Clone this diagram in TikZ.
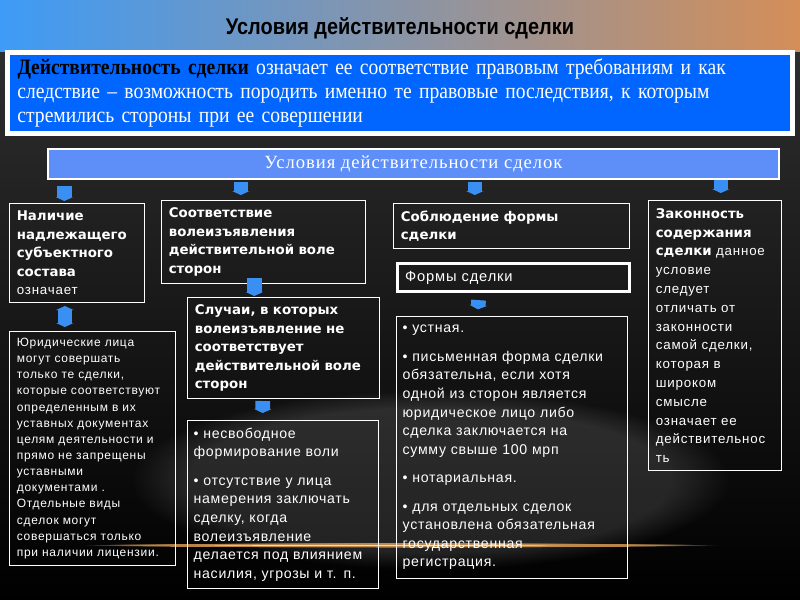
\documentclass[tikz,border=0pt]{standalone}
\usepackage{fontspec}
\setmainfont{Liberation Sans}
\newfontfamily\titlefont[FakeStretch=0.88]{Liberation Sans}
\newfontfamily\deffont[FakeStretch=0.89]{Liberation Serif}
\newfontfamily\barfont[LetterSpace=5]{Liberation Serif}
\newfontfamily\headfont{DejaVu Sans}
\newfontfamily\plainfont[LetterSpace=6]{Liberation Sans}
\newfontfamily\bulletfont[LetterSpace=5]{Liberation Sans}
\usetikzlibrary{
	calc				% Allows ($(a)+(x,y)$) offsets for the arrows
	, arrows.meta		% Allows Triangle arrow tips
	, fadings			% Allows the soft glow and the light streak
}
\definecolor{bandleft}{HTML}{3E9BF6}
\definecolor{bandmid}{HTML}{8E96A6}
\definecolor{bandright}{HTML}{D48E58}
\definecolor{defblue}{HTML}{0066FF}
\definecolor{barblue}{HTML}{5E8FF8}
\definecolor{arrowblue}{HTML}{3A90F2}
\definecolor{bgtop}{HTML}{2E2E2E}
\definecolor{streak}{HTML}{E3A45A}

\begin{document}
\begin{tikzpicture}[
		x=0.75pt, y=-0.75pt
		, condbox/.style={draw=white, line width=0.75pt, anchor=north west, align=left,
			inner xsep=5.5pt, inner ysep=3pt, text=white,
			font=\plainfont\fontsize{10}{13.9}\selectfont}
		, bulletbox/.style={condbox, inner xsep=4.5pt, font=\bulletfont\fontsize{10.6}{13.9}\selectfont}
		, blockarrow/.style={draw=arrowblue, line width=11pt, -{Triangle[width=13pt,length=3pt]}}
		, twoarrow/.style={blockarrow, {Triangle[width=13pt,length=3pt]}-{Triangle[width=13pt,length=3pt]}}
	]
	\useasboundingbox (0,0) rectangle (800,600);

	% Draw the background, the glow and the light streak
	\shade[left color=bandleft, middle color=bandmid, right color=bandright] (0,0) rectangle (800,52);
	\shade[top color=bgtop, bottom color=black] (0,52) rectangle (800,600);
	\fill[white, opacity=0.12, path fading=circle with fuzzy edge 20 percent] (430,480) ellipse (300 and 90);
	\fill[streak, opacity=0.8, path fading=circle with fuzzy edge 20 percent] (400,545) ellipse (320 and 2.5);
	\fill[white!60!streak, path fading=circle with fuzzy edge 20 percent] (380,545) ellipse (190 and 1);

	% Draw the title and the definition
	\node[font=\titlefont\bfseries\fontsize{17}{20}\selectfont] (title) at (400,28) {Условия действительности сделки};
	\node[draw=white, line width=3.75pt, fill=defblue, minimum width=588.75pt, minimum height=60.75pt,
		inner xsep=7.5pt, text width=573.75pt, align=left, text=white,
		font=\deffont\fontsize{16.5}{17.8}\selectfont] (definition) at (400,93)
		{\textcolor{black}{\textbf{Действительность сделки}} означает ее соответствие правовым требованиям и как\\
		следствие – возможность породить именно те правовые последствия, к которым\\
		стремились стороны при ее совершении};

	% Draw the bar with the four conditions below it
	\node[draw=white, line width=1.5pt, fill=barblue, minimum width=548.25pt, minimum height=22.5pt,
		text=white, font=\barfont\fontsize{14}{16}\selectfont] (condbar) at (413.5,164) {Условия действительности сделок};

	\node[condbox, minimum width=100.5pt, minimum height=74.25pt, text width=90pt] (subject) at (9,203)
		{{\headfont\bfseries Наличие\\надлежащего\\субъектного\\состава}\\означает};
	\node[condbox, minimum width=152.25pt, minimum height=62.25pt, text width=141.75pt] (will) at (161,200)
		{\headfont\bfseries Соответствие\\волеизъявления\\действительной воле\\сторон};
	\node[condbox, minimum width=176.25pt, minimum height=33.75pt, text width=165.75pt] (form) at (393,203)
		{\headfont\bfseries Соблюдение формы\\сделки};
	\node[condbox, minimum width=99pt, minimum height=202.5pt, text width=88.5pt, inner ysep=1pt,
		font=\plainfont\fontsize{10}{14.1}\selectfont] (content) at (648,200)
		{{\headfont\bfseries Законность\\содержания\\сделки} данное\\условие\\следует\\отличать от\\законности\\самой сделки,\\которая в\\широком\\смысле\\означает ее\\действительнос\\ть};

	% Draw the second row of boxes
	\node[condbox, minimum width=123.75pt, minimum height=175.5pt, text width=113.25pt, inner ysep=2pt,
		font=\plainfont\fontsize{9}{12.1}\selectfont] (legal) at (9,331)
		{Юридические лица\\могут совершать\\только те сделки,\\которые соответствуют\\определенным в их\\уставных документах\\целям деятельности и\\прямо не запрещены\\уставными\\документами .\\Отдельные виды\\сделок могут\\совершаться только\\при наличии лицензии.};
	\node[condbox, minimum width=143.25pt, minimum height=75.75pt, text width=132.75pt] (cases) at (187,297)
		{\headfont\bfseries Случаи, в которых\\волеизъявление не\\соответствует\\действительной воле\\сторон};
	\node[bulletbox, minimum width=143.25pt, minimum height=126pt, text width=134pt] (caselist) at (187,420)
		{• несвободное\\формирование воли\\[7.5pt]• отсутствие у лица\\намерения заключать\\сделку, когда\\волеизъявление\\делается под влиянием\\насилия, угрозы и т. п.};
	\node[condbox, line width=2.6pt, minimum width=173.25pt, minimum height=21pt, text width=162.75pt,
		font=\plainfont\fontsize{11}{13}\selectfont] (formtitle) at (396,262) {Формы сделки};
	\node[bulletbox, minimum width=173.25pt, minimum height=196.5pt, text width=164pt] (formlist) at (396,316)
		{• устная.\\[7.5pt]• письменная форма сделки\\обязательна, если хотя\\одной из сторон является\\юридическое лицо либо\\сделка заключается на\\сумму свыше 100 мрп\\[7.5pt]• нотариальная.\\[7.5pt]• для отдельных сделок\\установлена обязательная\\государственная\\регистрация.};

	% Draw the block arrows between the boxes
	\draw[blockarrow, shorten <=4.5pt, shorten >=1.5pt] ($(condbar.south -| subject.north)+(-12.5,0)$) -- ($(subject.north)+(-12.5,0)$);
	\draw[blockarrow, shorten <=1.5pt, shorten >=3.75pt] ($(condbar.south -| will.north)+(-22.5,0)$) -- ($(will.north)+(-22.5,0)$);
	\draw[blockarrow, shorten <=1.5pt, shorten >=6pt] ($(condbar.south -| form.north)+(-36.5,0)$) -- ($(form.north)+(-36.5,0)$);
	\draw[blockarrow, shorten <=0pt, shorten >=5.25pt] ($(condbar.south -| content.north)+(6,0)$) -- ($(content.north)+(6,0)$);
	\draw[twoarrow, shorten <=2.25pt, shorten >=3pt] ($(subject.south)+(-12,0)$) -- ($(legal.north -| subject.south)+(-12,0)$);
	\draw[blockarrow, shorten >=0.75pt] ($(will.south)+(-9,-6)$) -- ($(cases.north -| will.south)+(-9,0)$);
	\draw[blockarrow, shorten <=1.5pt, shorten >=5.25pt] ($(cases.south)+(-20.5,0)$) -- ($(caselist.north)+(-20.5,0)$);
	\draw[blockarrow, shorten <=5pt, shorten >=5pt] ($(formtitle.south)+(-34.5,0)$) -- ($(formlist.north)+(-34.5,0)$);
\end{tikzpicture}
\end{document}
